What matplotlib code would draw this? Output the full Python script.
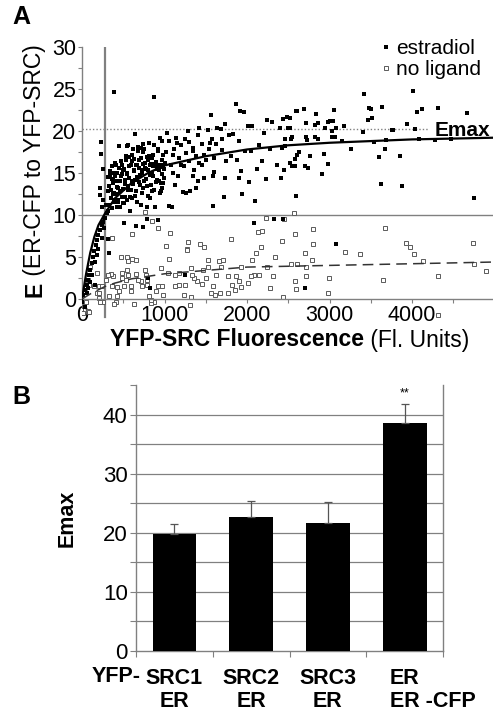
import numpy as np
import matplotlib.pyplot as plt
import matplotlib.transforms as mtransforms

plt.rcParams['font.family'] = ['Liberation Sans', 'DejaVu Sans']

# ---------- panel A data ----------
# estradiol cells: (YFP-SRC fluorescence, E)
estradiol_pts = [
    # steep part near the origin
    (36, 1.07), (57, 1.67), (77, 2.26), (85, 2.86), (97, 3.45), (117, 4.25), (137, 5.04),
    (145, 5.71), (166, 6.43), (178, 7.02), (198, 7.62), (218, 8.21), (238, 8.81), (259, 9.2),
    (279, 9.68), (299, 10.2), (319, 10.5), (77, 1.35), (57, 0.68), (117, 2.86), (158, 4.44),
    (198, 5.95), (238, 7.22), (271, 8.41), (178, 5.24), (97, 2.06), (16, 0.48), (4, -0.3),
    (36, -0.9), (158, 1.67), (232, 18.7), (232, 17.3), (224, 13.2), (251, 15.5), (240, 11.0),
    (218, 12.4), (259, 11.8), (287, 11.2),
    # dense cluster 300-1000
    (352, 12.0), (392, 12.6), (360, 10.8), (420, 11.0), (440, 11.8), (501, 11.4), (521, 12.2),
    (561, 13.0), (602, 12.0), (663, 11.6), (724, 12.6), (784, 11.0), (845, 12.8), (966, 13.2),
    (986, 13.8), (1087, 11.0), (1127, 13.6),
    (310, 14.5), (330, 13.5), (340, 14.8), (350, 12.0), (360, 15.8), (370, 13.8), (380, 14.2),
    (390, 11.5), (400, 16.2), (410, 14.0), (420, 12.5), (430, 15.0), (440, 13.2), (450, 18.2),
    (460, 11.0), (470, 14.6), (480, 16.0), (490, 12.2), (500, 15.3), (520, 13.7), (530, 16.5),
    (540, 11.8), (550, 14.9), (560, 18.3), (570, 15.8), (580, 10.5), (590, 13.0), (600, 16.4),
    (610, 14.1), (620, 17.8), (630, 15.2), (640, 12.3), (650, 16.0), (670, 14.5), (680, 18.1),
    (690, 15.6), (700, 13.6), (710, 16.8), (720, 11.2), (730, 15.0), (740, 17.5), (750, 14.0),
    (760, 16.2), (780, 15.5), (790, 13.4), (800, 16.6), (810, 18.6), (820, 14.8), (830, 12.0),
    (840, 16.1), (850, 15.0), (860, 17.2), (870, 13.0), (880, 15.8), (890, 11.0), (900, 16.3),
    (910, 14.2), (920, 17.6), (930, 15.4), (940, 12.6), (950, 16.0), (960, 13.8), (970, 18.8),
    (980, 15.9), (990, 14.4), (1000, 16.2),
    (320, 12.8), (330, 11.2), (345, 15.2), (355, 13.0), (365, 14.3), (375, 12.5), (385, 15.0),
    (395, 11.8), (405, 14.6), (415, 16.0), (425, 13.3), (435, 11.5), (445, 15.6), (455, 14.1),
    (465, 12.9), (475, 16.4), (485, 14.9), (495, 13.1), (505, 11.4), (515, 15.5), (525, 14.2),
    (535, 17.0), (545, 15.0), (555, 13.4), (565, 16.9), (575, 14.4), (585, 12.2), (595, 15.9),
    (605, 17.2), (615, 13.7), (625, 15.4), (635, 16.7), (645, 14.2), (655, 12.8), (665, 15.9),
    (675, 17.6), (685, 13.9), (695, 16.5), (705, 14.8), (715, 18.0), (725, 15.3), (735, 13.2),
    (745, 16.1), (755, 17.9), (765, 15.6), (775, 14.3), (785, 16.9), (795, 12.3), (805, 15.4),
    (815, 17.0), (825, 15.9), (835, 13.6), (845, 16.8), (855, 14.6), (865, 15.8), (875, 18.3),
    (885, 16.1), (895, 13.9), (905, 15.5), (915, 17.8), (925, 16.0), (935, 14.0), (945, 15.7),
    (955, 12.9), (965, 16.6), (975, 14.9), (985, 17.1), (995, 15.5),
    (541, 18.2), (743, 18.5), (945, 19.2), (642, 19.7), (388, 24.7), (876, 24.0),
    (513, 9.1), (655, 8.7), (743, 8.6), (792, 9.5), (917, 9.4), (311, 7.1), (330, 5.5),
    (824, 1.3), (804, 2.5), (1248, 2.9),
    # 1000-2000
    (1020, 17.5), (1030, 19.8), (1050, 18.8), (1057, 11.1), (1080, 16.0), (1100, 15.0),
    (1100, 17.2), (1120, 17.8), (1140, 19.2), (1150, 18.6), (1160, 14.6), (1180, 16.8),
    (1200, 18.3), (1200, 16.0), (1220, 12.7), (1240, 15.8), (1250, 19.0), (1257, 12.6),
    (1260, 17.4), (1289, 20.0), (1300, 16.4), (1300, 18.7), (1309, 12.8), (1340, 18.0),
    (1349, 14.6), (1350, 17.6), (1360, 15.3), (1380, 17.0), (1382, 13.2), (1400, 19.5),
    (1400, 14.0), (1418, 20.4), (1420, 16.2), (1450, 16.0), (1460, 18.5), (1479, 14.4),
    (1480, 17.2), (1500, 16.6), (1531, 20.1), (1540, 17.9), (1550, 18.6), (1564, 21.9),
    (1580, 19.0), (1592, 14.6), (1592, 11.1), (1600, 16.8), (1600, 15.1), (1620, 18.4),
    (1632, 20.4), (1681, 20.2), (1700, 17.7), (1700, 19.1), (1725, 12.2), (1733, 20.8),
    (1733, 14.4), (1750, 16.4), (1780, 19.5), (1800, 17.0), (1834, 19.6), (1867, 23.2),
    (1880, 16.6), (1900, 18.8), (1907, 14.4), (1915, 22.4), (1930, 15.2), (1943, 12.5),
    (1967, 22.3), (1980, 17.6),
    # 2000-3000
    (2016, 20.6), (2028, 13.9), (2050, 17.6), (2057, 20.6), (2085, 9.1), (2097, 11.7),
    (2120, 15.5), (2150, 18.3), (2180, 16.4), (2200, 19.8), (2230, 14.3), (2246, 21.3),
    (2280, 17.8), (2299, 21.1), (2331, 9.5), (2360, 16.0), (2400, 20.4), (2408, 14.4),
    (2420, 18.0), (2432, 21.4), (2432, 9.5), (2450, 15.4), (2461, 19.1), (2461, 18.2),
    (2481, 21.7), (2501, 20.4), (2521, 20.3), (2521, 21.6), (2521, 16.2), (2533, 19.1),
    (2541, 15.8), (2549, 19.3), (2582, 16.7), (2582, 15.8), (2594, 22.4), (2594, 12.3),
    (2602, 17.1), (2610, 22.4), (2630, 17.5), (2695, 22.6), (2703, 15.8), (2703, 1.35),
    (2711, 20.9), (2715, 19.3), (2724, 18.9), (2743, 15.6), (2764, 17.0), (2824, 20.7),
    (2824, 19.3), (2833, 22.0), (2865, 21.0), (2865, 19.1), (2913, 14.9), (2937, 17.3),
    (2945, 20.4), (2978, 21.1), (2978, 16.1),
    # 3000-5000
    (3006, 21.2), (3026, 19.3), (3034, 20.0), (3046, 21.2), (3055, 22.5), (3067, 19.3),
    (3075, 20.3), (3075, 6.5), (3147, 18.8), (3180, 20.6), (3261, 17.9), (3410, 19.9),
    (3415, 24.4), (3470, 21.3), (3479, 22.7), (3503, 22.6), (3519, 21.6), (3543, 18.7),
    (3604, 16.9), (3624, 13.7), (3640, 22.8), (3673, 17.9), (3685, 18.9), (3761, 20.1),
    (3766, 20.1), (3855, 17.0), (3875, 13.5), (3935, 20.8), (4008, 24.8), (4036, 20.2),
    (4057, 22.3), (4089, 19.0), (4117, 22.6), (4279, 18.9), (4319, 22.7), (4473, 19.0),
    (4671, 22.1), (4752, 12.0),
]

# no ligand cells
no_ligand_pts = [
    (2571, 10.2), (764, 10.3), (846, 9.3), (358, 7.3), (927, 8.4), (1069, 7.8), (1801, 7.2),
    (2134, 8.0), (2183, 8.1), (2224, 9.7), (2447, 9.5), (2581, 7.7), (2797, 8.3), (3671, 8.4),
    (4736, 6.7), (3923, 6.7), (3971, 6.2), (4024, 5.4), (4126, 4.5), (4748, 4.2), (4898, 3.3),
    (4309, 2.7), (3650, 2.3), (3191, 5.6), (3374, 5.3), (2797, 6.5), (2785, 4.6), (2703, 5.5),
    (2715, 3.8), (2715, 2.7), (2988, 2.5), (2980, 0.7), (2594, 1.2), (2581, 2.1), (2533, 4.2),
    (2602, 4.2), (2419, 6.9), (2439, 0.2), (2337, 5.0), (2276, 1.3), (2236, 3.8), (2167, 6.2),
    (2114, 5.5), (2061, 4.6), (2085, 2.9), (2045, 2.7), (2147, 2.8), (2317, 2.7), (1931, 1.4),
    (1870, 2.7), (1898, 2.1), (1817, 1.7), (1923, 3.8), (2012, 1.9), (1850, 1.1), (1768, 0.7),
    (1768, 2.7), (1707, 4.6), (1659, 4.5), (1687, 3.8), (1626, 2.8), (1585, 1.5), (1565, 0.7),
    (1606, 0.5), (1675, 0.7), (1524, 4.6), (1532, 3.8), (1472, 3.5), (1455, 1.8), (1504, 2.5),
    (1427, 6.6), (1476, 6.2), (1394, 2.1), (1362, 2.5), (1321, 3.7), (1329, 2.9), (1321, 0.2),
    (1280, 6.8), (1268, 6.0), (1268, 5.8), (1252, 1.7), (1232, 0.5), (1171, 1.7), (1126, 1.5),
    (1130, 2.9), (1179, 3.1), (1037, 3.1), (1057, 4.8), (1024, 6.3), (955, 3.7), (968, 1.5),
    (984, 0.5), (915, 1.5), (894, 1.0), (874, -0.3), (841, -0.5), (793, 2.3), (760, 3.4),
    (772, 2.9), (793, 1.7), (813, 0.3), (732, 1.5), (711, 2.1), (683, 2.3), (650, 3.0),
    (650, 4.6), (602, 4.8), (610, 7.7), (561, 4.5), (561, 2.9), (589, 1.5), (598, 0.9),
    (528, 2.3), (508, 1.5), (541, 3.5), (476, 5.0), (549, 5.0), (488, 3.1), (480, 2.5),
    (447, 0.9), (427, 0.4), (407, -0.3), (386, -0.6), (419, 1.4), (378, 2.7), (346, 3.0),
    (313, 2.9), (366, 1.5), (325, 0.3), (297, 2.3), (252, -0.3), (224, -0.3), (203, 0.1),
    (183, 0.7), (203, 0.7), (142, 1.5), (183, 3.1), (203, 1.6), (244, 1.6), (69, 2.3),
    (81, 1.7), (41, 1.3), (102, 3.8), (53, -0.3), (28, -0.8), (69, -1.4), (-12, -1.3),
    (12, -1.7), (81, -1.5), (833, -0.1), (630, -0.6), (1313, -0.7), (4309, -1.9),
]

# hyperbolic fits, read as points along the drawn curves
fit_x = [0, 50, 100, 150, 200, 280, 400, 600, 800, 1000, 1500, 2000, 2500, 3000, 3500, 4000, 4500, 4980]
fit_estradiol = [0, 3.0, 5.5, 7.4, 8.8, 10.2, 12.0, 13.8, 15.0, 15.9, 17.0, 17.8, 18.3, 18.6, 18.8, 19.0, 19.1, 19.2]
fit_no_ligand = [0, 0.3, 0.6, 0.9, 1.1, 1.5, 1.9, 2.4, 2.7, 3.0, 3.4, 3.8, 3.9, 4.0, 4.1, 4.2, 4.3, 4.4]

emax_line = 20.2
half_line = 10
kd_x = 279

# ---------- panel B data ----------
bar_labels = ['SRC1\nER', 'SRC2\nER', 'SRC3\nER', 'ER\nER -CFP']
emax_vals = [19.8, 22.6, 21.7, 38.5]
emax_err = [1.7, 2.8, 3.5, 3.3]

GRAY = '#808080'

fig = plt.figure(figsize=(4.93, 7.11), dpi=100)

# ---------------- panel A ----------------
axA = fig.add_axes([0.1663, 0.5511, 0.8337, 0.3828])
ex, ey = np.array(estradiol_pts).T
nx, ny = np.array(no_ligand_pts).T

axA.axhline(half_line, color=GRAY, lw=1.0, zorder=1)
axA.axhline(emax_line, xmax=0.845, color=GRAY, lw=1.0, ls=(0, (1, 1.5)), zorder=1)
axA.axvline(kd_x, ymin=(-2.1 + 2.4) / 32.4, ymax=1, color=GRAY, lw=1.6, zorder=1)

h_nl, = axA.plot(nx, ny, 's', ms=3.0, mfc='white', mec='#5a5a5a', mew=0.7,
                 ls='none', label='no ligand', zorder=2)
h_est, = axA.plot(ex, ey, 's', ms=2.5, color='black', mew=0, ls='none',
                  label='estradiol', zorder=3)
axA.plot(fit_x, fit_estradiol, color='black', lw=1.6, zorder=4)
axA.plot(fit_x, fit_no_ligand, color='#333333', lw=1.1, ls=(0, (7, 4)), zorder=4)

axA.set_xlim(0, 4980)
axA.set_ylim(-2.4, 30)
axA.set_xticks([0, 1000, 2000, 3000, 4000])
axA.set_xticks(np.arange(500, 5000, 1000), minor=True)
axA.set_yticks(np.arange(0, 31, 5))
axA.set_yticks(np.arange(2.5, 30, 5), minor=True)
axA.tick_params(which='both', direction='out', length=3, width=0.8, color=GRAY,
                labelsize=15.5, pad=1)
for s in ['top', 'right']:
    axA.spines[s].set_visible(False)
axA.spines['left'].set_bounds(0, 30)
axA.spines['bottom'].set_position(('data', 0))
for s in ['left', 'bottom']:
    axA.spines[s].set_color(GRAY)
    axA.spines[s].set_linewidth(1.0)

axA.text(4945, 19.45, 'Emax', ha='right', va='baseline', fontsize=15, weight='bold', zorder=5)

axA.legend(handles=[h_est, h_nl], loc='upper right', bbox_to_anchor=(0.97, 1.03),
           frameon=False, fontsize=15, handlelength=0.4, handletextpad=0.25,
           labelspacing=0.1, borderaxespad=0, borderpad=0)

# axis labels, bold part + normal part
t = fig.text(110 / 493, 1 - 340 / 711, 'YFP-SRC Fluorescence', ha='left', va='center',
             fontsize=16.5, weight='bold')
axA.annotate(' (Fl. Units)', xy=(1, 0.5), xycoords=t, ha='left', va='center', fontsize=16.5,
             annotation_clip=False)
t2 = fig.text(35 / 493, 1 - 297 / 711, 'E', rotation=90, ha='center', va='bottom',
              fontsize=16.5, weight='bold')
axA.annotate(' (ER-CFP to YFP-SRC)', xy=(0.5, 1), xycoords=t2, rotation=90, ha='center',
             va='bottom', fontsize=16.5, annotation_clip=False)

fig.text(12 / 493, 1 - 5 / 711, 'A', ha='left', va='top', fontsize=18, weight='bold')

# ---------------- panel B ----------------
axB = fig.add_axes([0.2759, 0.0844, 0.6227, 0.3741])
idx = np.arange(len(emax_vals))
for v in range(5, 45, 5):
    axB.axhline(v, color=GRAY, lw=0.9, zorder=1)
axB.bar(idx, emax_vals, width=0.57, color='black', zorder=3)
axB.errorbar(idx, emax_vals, yerr=[np.zeros(len(emax_err)), emax_err], fmt='none',
             ecolor='#555555', elinewidth=0.9, capsize=3, capthick=0.9, zorder=4)
axB.text(3, 42.5, '**', ha='center', va='bottom', fontsize=9)

axB.set_xlim(-0.5, 3.5)
axB.set_ylim(0, 45)
axB.set_yticks([0, 10, 20, 30, 40])
axB.set_yticks([5, 15, 25, 35, 45], minor=True)
axB.set_xticks([-0.5, 0.5, 1.5, 2.5, 3.5])
axB.set_xticklabels([])
axB.tick_params(which='both', direction='out', length=4, width=0.8, color=GRAY,
                labelsize=16, pad=2)
axB.spines['top'].set_visible(False)
for s in ['left', 'bottom', 'right']:
    axB.spines[s].set_color(GRAY)
    axB.spines[s].set_linewidth(1.0)

axB.text(-0.2248, 0.5, 'Emax', transform=axB.transAxes, rotation=90, ha='center',
         va='center', fontsize=15.5, weight='bold')

trans = mtransforms.blended_transform_factory(axB.transData, fig.transFigure)
ylab = 1 - 690 / 711
for i, lab in enumerate(bar_labels):
    if i == len(bar_labels) - 1:
        axB.text(i - 0.19, ylab, lab, transform=trans, ha='left', va='center',
                 multialignment='left', fontsize=15.5, weight='bold', linespacing=1.15)
    else:
        axB.text(i, ylab, lab, transform=trans, ha='center', va='center',
                 multialignment='center', fontsize=15.5, weight='bold', linespacing=1.15)
fig.text(141 / 493, 1 - 677 / 711, 'YFP-', ha='right', va='center', fontsize=15.5,
         weight='bold')

fig.text(12 / 493, 1 - 385 / 711, 'B', ha='left', va='top', fontsize=18, weight='bold')

fig.savefig('out.png', dpi=100)
